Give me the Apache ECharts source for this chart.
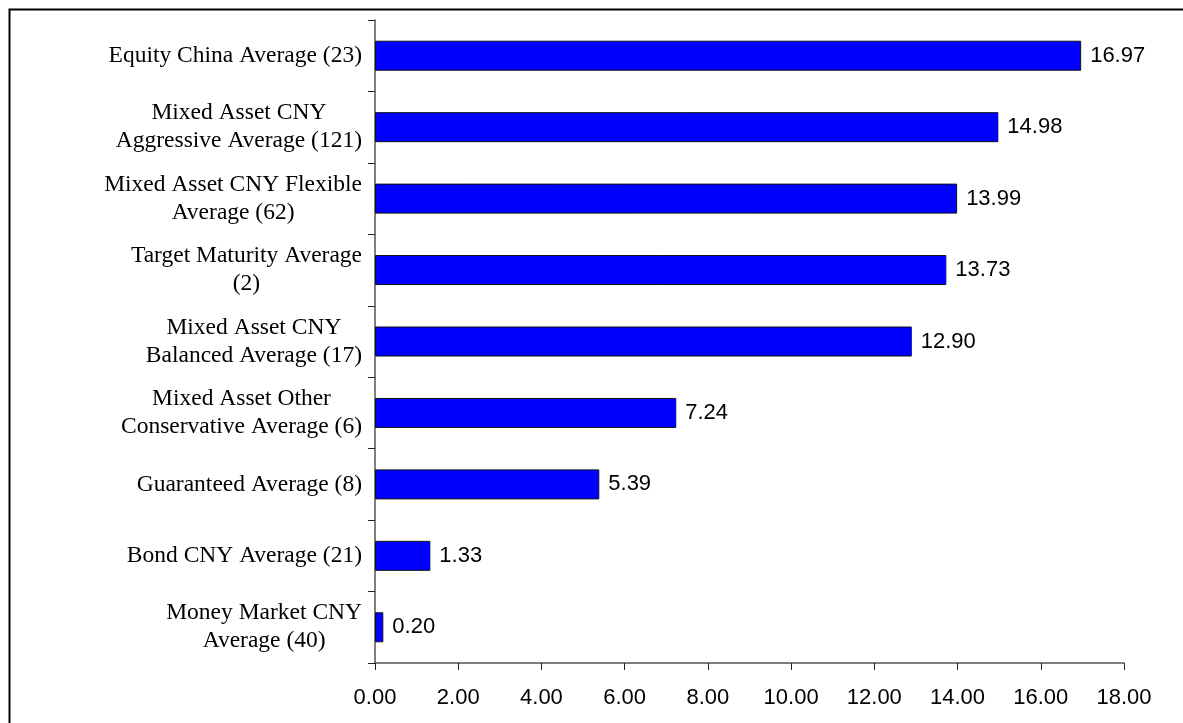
<!DOCTYPE html>
<html>
<head>
<meta charset="utf-8">
<script src="https://cdn.jsdelivr.net/npm/echarts@6/dist/echarts.min.js"></script>
<style>html,body{margin:0;padding:0;background:#fff;}#c{width:1183px;height:723px;}</style>
</head>
<body>
<div id="c"></div>
<script>
const categories = [
  "Money Market CNY\nAverage (40)",
  "Bond CNY Average (21)",
  "Guaranteed Average (8)",
  "Mixed Asset Other\nConservative Average (6)",
  "Mixed Asset CNY\nBalanced Average (17)",
  "Target Maturity Average\n(2)",
  "Mixed Asset CNY Flexible\nAverage (62)",
  "Mixed Asset CNY\nAggressive Average (121)",
  "Equity China Average (23)"
];
const values = [0.20, 1.33, 5.39, 7.24, 12.90, 13.73, 13.99, 14.98, 16.97];
const xTicks = { min: 0, max: 18, interval: 2 };

const chart = echarts.init(document.getElementById('c'), null, { renderer: 'canvas' });
chart.setOption({
  animation: false,
  backgroundColor: '#ffffff',
  graphic: [{
    type: 'rect', left: 7, top: 7, z: -1,
    shape: { width: 1200, height: 800 },
    style: { fill: 'none', stroke: '#000', lineWidth: 2 }
  }],
  grid: { left: 375, right: 59, top: 20, bottom: 60, containLabel: false },
  xAxis: {
    type: 'value', min: xTicks.min, max: xTicks.max, interval: xTicks.interval,
    splitLine: { show: false },
    axisLine: { show: true, lineStyle: { color: '#555', width: 1.5 } },
    axisTick: { show: true, length: 7, lineStyle: { color: '#222' } },
    axisLabel: {
      margin: 24, color: '#000', fontFamily: 'Liberation Sans, Arial', fontSize: 22,
      formatter: v => v.toFixed(2)
    }
  },
  yAxis: {
    type: 'category', data: categories,
    axisLine: { show: true, lineStyle: { color: '#555', width: 1.5 } },
    axisTick: { show: true, length: 7, lineStyle: { color: '#222' } },
    axisLabel: {
      margin: 13, color: '#000', fontFamily: 'Liberation Serif, Times New Roman', fontSize: 23.5,
      lineHeight: 28,
      formatter: v => v.split('\n').map(s => '{c|' + s + '}').join('\n'),
      rich: { c: { align: 'center', fontFamily: 'Liberation Serif, Times New Roman', fontSize: 23.5, lineHeight: 28, color: '#000' } }
    }
  },
  series: [{
    type: 'bar', data: values, barWidth: 30,
    itemStyle: { color: '#0000FF', borderColor: '#111', borderWidth: 1 },
    label: {
      show: true, position: 'right', distance: 9, color: '#000',
      fontFamily: 'Liberation Sans, Arial', fontSize: 22,
      formatter: p => p.value.toFixed(2)
    }
  }]
});
</script>
</body>
</html>
